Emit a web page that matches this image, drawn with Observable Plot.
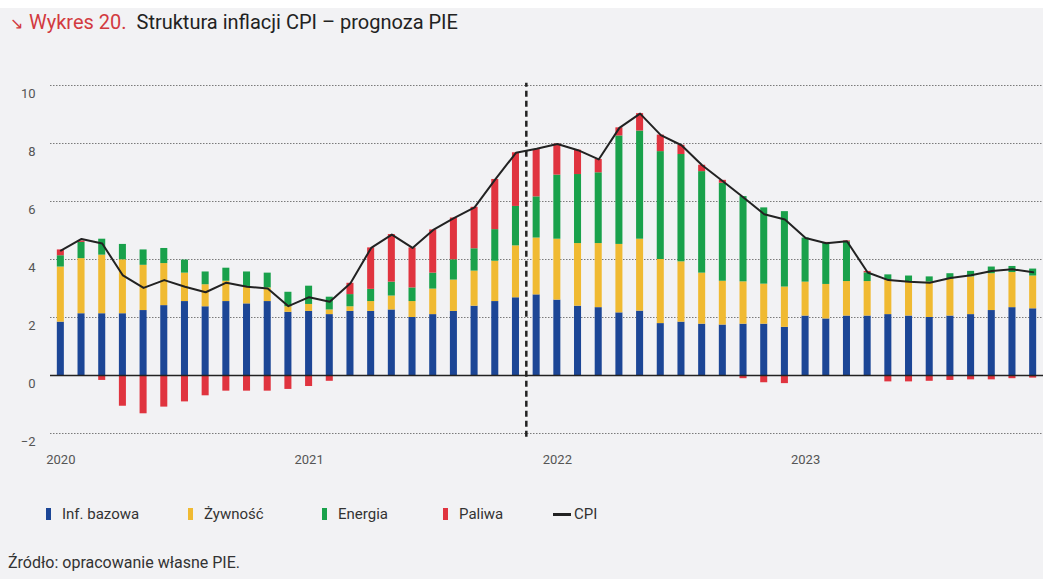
<!DOCTYPE html>
<html lang="pl">
<head>
<meta charset="utf-8">
<script src="https://cdn.jsdelivr.net/npm/d3@7"></script>
<script src="https://cdn.jsdelivr.net/npm/@observablehq/plot@0.6"></script>
<style>
  html, body { margin: 0; padding: 0; background: #ffffff; }
  #wrap { position: relative; width: 1043px; height: 579px; background: #f2f2f4; overflow: hidden;
          font-family: Roboto, "Noto Sans", sans-serif; }
  #topstrip { position: absolute; left: 0; top: 0; width: 1043px; height: 8px; background: #ffffff; }
  #title { position: absolute; left: 10px; top: 10px; font-size: 20px; color: #222; white-space: nowrap; }
  #title .num { color: #d23a40; }
  #title .arrow { color: #d23a40; font-size: 16px; margin-right: 6px; }
  #chart { position: absolute; left: 0; top: 40px; }
  #legend { position: absolute; left: 46px; top: 505px; font-size: 15px; color: #333; display: flex; align-items: center; }
  #legend .item { display: flex; align-items: center; }
  #legend .sw { display: inline-block; width: 5px; height: 12px; margin-right: 11px; }
  #legend .ln { display: inline-block; width: 18px; height: 3px; background: #222; margin-right: 3px; }
  #source { position: absolute; left: 8px; top: 553px; font-size: 16px; color: #333; }
</style>
</head>
<body>
<div id="wrap">
  <div id="topstrip"></div>
  <div id="title"><span class="arrow">↘</span><span class="num">Wykres 20.</span>&nbsp; Struktura inflacji CPI – prognoza PIE</div>
  <div id="chart"></div>
  <div id="legend"></div>
  <div id="source">Źródło: opracowanie własne PIE.</div>
</div>
<script>
// ---- Data (monthly, Jan 2020 – Dec 2023) ----
const yearLabels = ["2020", "2021", "2022", "2023"];
const seriesNames = ["Inf. bazowa", "Żywność", "Energia", "Paliwa"];
const seriesColors = ["#1c4696", "#f0ba32", "#19a14b", "#e0343f"];
const yTicks = [-2, 0, 2, 4, 6, 8, 10];
const forecastStart = 23; // Dec 2021

const bazowa = [
  1.84, 2.13, 2.13, 2.13, 2.24, 2.41, 2.55, 2.37, 2.55, 2.47, 2.55, 2.18,
  2.21, 2.10, 2.21, 2.21, 2.26, 2.00, 2.10, 2.21, 2.39, 2.55, 2.68, 2.78,
  2.60, 2.39, 2.34, 2.16, 2.22, 1.79, 1.84, 1.77, 1.74, 1.77, 1.77, 1.66,
  2.05, 1.95, 2.05, 2.05, 2.10, 2.05, 2.00, 2.05, 2.10, 2.24, 2.34, 2.30
];
const zywnosc = [
  1.90, 1.90, 2.02, 1.86, 1.56, 1.45, 0.98, 0.76, 0.70, 0.60, 0.47, 0.19,
  0.24, 0.16, 0.16, 0.34, 0.48, 0.55, 0.88, 1.08, 1.21, 1.39, 1.79, 1.96,
  2.10, 2.16, 2.21, 2.36, 2.48, 2.21, 2.08, 1.76, 1.51, 1.46, 1.38, 1.39,
  1.17, 1.19, 1.19, 1.19, 1.19, 1.19, 1.22, 1.27, 1.30, 1.27, 1.21, 1.13
];
const energia = [
  0.39, 0.56, 0.55, 0.53, 0.53, 0.52, 0.45, 0.44, 0.45, 0.50, 0.51, 0.50,
  0.63, 0.44, 0.42, 0.42, 0.48, 0.47, 0.55, 0.70, 0.77, 1.09, 1.36, 1.42,
  2.21, 2.38, 2.44, 3.74, 3.73, 3.72, 3.70, 3.50, 3.38, 2.94, 2.63, 2.60,
  1.52, 1.42, 1.37, 0.30, 0.18, 0.19, 0.18, 0.19, 0.19, 0.23, 0.21, 0.24
];
const paliwa = [
  0.20, 0.05, -0.17, -1.06, -1.32, -1.09, -0.91, -0.70, -0.54, -0.54, -0.54, -0.48,
  -0.38, -0.20, 0.39, 1.43, 1.64, 1.38, 1.49, 1.44, 1.43, 1.73, 1.85, 1.63,
  1.07, 0.84, 0.46, 0.28, 0.60, 0.57, 0.32, 0.22, 0.10, -0.11, -0.25, -0.28,
  0.00, 0.03, 0.03, 0.05, -0.22, -0.22, -0.20, -0.17, -0.15, -0.15, -0.11, -0.09
];
const cpi = [
  4.31, 4.71, 4.55, 3.45, 3.02, 3.29, 3.06, 2.87, 3.20, 3.06, 3.00, 2.39,
  2.70, 2.54, 3.18, 4.40, 4.86, 4.40, 5.02, 5.43, 5.80, 6.76, 7.68, 7.82,
  7.98, 7.77, 7.45, 8.54, 9.03, 8.29, 7.94, 7.25, 6.70, 6.14, 5.56, 5.38,
  4.74, 4.56, 4.63, 3.55, 3.29, 3.23, 3.20, 3.36, 3.46, 3.60, 3.66, 3.56
];

// ---- Build tidy table ----
const seriesValues = [bazowa, zywnosc, energia, paliwa];
const months = d3.range(cpi.length);
const tidy = [];
months.forEach(i => {
  seriesNames.forEach((s, k) => tidy.push({i, series: s, value: seriesValues[k][i]}));
});
const cpiData = months.map(i => ({i, cpi: cpi[i]}));
const yearTickIdx = yearLabels.map((_, k) => k * 12);

const plot = Plot.plot({
  width: 1043,
  height: 440,
  marginLeft: 50,
  marginRight: 0,
  marginTop: 45,
  marginBottom: 47,
  style: {background: "transparent", fontFamily: "Roboto, 'Noto Sans', sans-serif", fontSize: "13px", color: "#555", overflow: "visible"},
  x: {type: "band", domain: months, paddingInner: 0.66, paddingOuter: 0.33, axis: null, label: null},
  y: {domain: [-2, 10], axis: null, label: null},
  color: {domain: seriesNames, range: seriesColors},
  marks: [
    Plot.ruleY(yTicks.filter(d => d !== 0), {stroke: "#7a7a7a", strokeWidth: 1, strokeDasharray: "1.5,1.5"}),
    Plot.axisY(yTicks, {tickSize: 0, tickPadding: 15, dy: 8, fill: "#555", fontSize: 13, label: null}),
    Plot.axisX(yearTickIdx, {tickSize: 0, tickPadding: 21, tickFormat: i => yearLabels[i / 12], fill: "#555", fontSize: 13, label: null}),
    Plot.barY(tidy, {x: "i", y: "value", fill: "series", order: seriesNames}),
    Plot.ruleY([0], {stroke: "#222", strokeWidth: 1.6}),
    Plot.lineY(cpiData, {x: "i", y: "cpi", stroke: "#222", strokeWidth: 2}),
    Plot.ruleX([forecastStart], {y1: -2.13, y2: 10.08, dx: -10.34, stroke: "#222", strokeWidth: 2.5, strokeDasharray: "6,4"})
  ]
});
document.getElementById("chart").appendChild(plot);

// ---- Legend ----
const legend = d3.select("#legend");
const widths = [142, 134, 121, 110];
seriesNames.forEach((s, k) => {
  const it = legend.append("div").attr("class", "item").style("width", widths[k] + "px");
  it.append("span").attr("class", "sw").style("background", seriesColors[k]);
  it.append("span").text(s);
});
const cpiItem = legend.append("div").attr("class", "item");
cpiItem.append("span").attr("class", "ln");
cpiItem.append("span").text("CPI");
</script>
</body>
</html>
